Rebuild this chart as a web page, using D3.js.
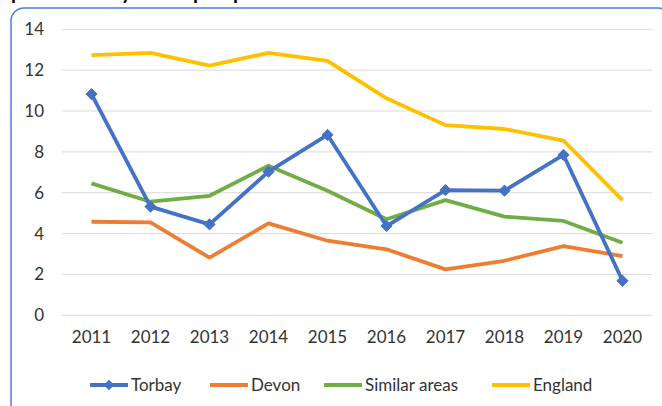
<!DOCTYPE html>
<html>
<head>
<meta charset="utf-8">
<script src="https://d3js.org/d3.v7.min.js"></script>
<style>
  body { margin: 0; background: #fff; }
  svg { display: block; font-family: Lato, "Open Sans", sans-serif; }
</style>
</head>
<body>
<svg id="chart" width="662" height="406"></svg>
<script>
// data
const years = ['2011', '2012', '2013', '2014', '2015', '2016', '2017', '2018', '2019', '2020'];
const torbay = [10.83, 5.32, 4.45, 7.03, 8.83, 4.37, 6.13, 6.1, 7.85, 1.69];
const devon = [4.58, 4.55, 2.82, 4.5, 3.65, 3.23, 2.25, 2.67, 3.39, 2.9];
const similarAreas = [6.46, 5.56, 5.85, 7.32, 6.1, 4.7, 5.64, 4.83, 4.62, 3.55];
const england = [12.74, 12.85, 12.22, 12.85, 12.45, 10.62, 9.31, 9.12, 8.55, 5.64];
const yTicks = [0, 2, 4, 6, 8, 10, 12, 14];
const seriesNames = ['Torbay', 'Devon', 'Similar areas', 'England'];
const seriesColors = ['#4472c4', '#ed7d31', '#70ad47', '#ffc000'];

const svg = d3.select('#chart');
const textColor = '#333';

// cropped heading above the chart box (only descenders visible)
const headingBits = [{ t: 'p', x: 11 }, { t: 'y', x: 121 }, { t: 'p', x: 193 }, { t: 'p', x: 233 }];
svg.append('g')
  .selectAll('text')
  .data(headingBits)
  .enter().append('text')
  .attr('x', d => d.x)
  .attr('y', -1)
  .attr('font-size', 20)
  .attr('font-weight', 'bold')
  .attr('fill', '#000')
  .text(d => d.t);

// chart frame
svg.append('rect')
  .attr('x', 11).attr('y', 8)
  .attr('width', 660).attr('height', 410)
  .attr('rx', 13)
  .attr('fill', 'none')
  .attr('stroke', '#4f7fd0')
  .attr('stroke-width', 1.5);

const x = d3.scaleBand().domain(years).range([62, 652]);
const y = d3.scaleLinear().domain([0, 14]).range([315.3, 29.3]);

// gridlines
svg.append('g')
  .selectAll('line')
  .data(yTicks)
  .enter().append('line')
  .attr('x1', 62).attr('x2', 652)
  .attr('y1', d => y(d)).attr('y2', d => y(d))
  .attr('stroke', '#d9d9d9')
  .attr('stroke-width', 1);

// y axis labels
const yAxis = svg.append('g')
  .attr('transform', 'translate(44,0)')
  .call(d3.axisLeft(y).tickValues(yTicks).tickSize(0).tickPadding(0));
yAxis.select('.domain').remove();
yAxis.selectAll('text')
  .attr('font-family', 'Lato, "Open Sans", sans-serif')
  .attr('font-size', 17)
  .attr('fill', textColor);

// x axis labels
const xAxis = svg.append('g')
  .attr('transform', 'translate(0,331)')
  .call(d3.axisBottom(x).tickSize(0).tickPadding(0));
xAxis.select('.domain').remove();
xAxis.selectAll('text')
  .attr('font-family', 'Lato, "Open Sans", sans-serif')
  .attr('font-size', 17)
  .attr('fill', textColor);

const cx = d => x(d) + x.bandwidth() / 2;
const allSeries = [torbay, devon, similarAreas, england];
const line = d3.line().x((d, i) => cx(years[i])).y(d => y(d));

// draw England first so Torbay sits on top, like the original
[3, 2, 1, 0].forEach(k => {
  svg.append('path')
    .datum(allSeries[k])
    .attr('d', line)
    .attr('fill', 'none')
    .attr('stroke', seriesColors[k])
    .attr('stroke-width', 3.8)
    .attr('stroke-linejoin', 'round');
});

// Torbay diamond markers
svg.append('g')
  .selectAll('path')
  .data(torbay)
  .enter().append('path')
  .attr('d', d3.symbol(d3.symbolDiamond2, 80))
  .attr('transform', (d, i) => `translate(${cx(years[i])},${y(d)})`)
  .attr('fill', seriesColors[0])
  .attr('stroke', seriesColors[0])
  .attr('stroke-width', 1);

// legend
const legendX = [90, 210, 324, 492];
const legend = svg.append('g')
  .selectAll('g')
  .data(seriesNames)
  .enter().append('g')
  .attr('transform', (d, i) => `translate(${legendX[i]},385)`);
legend.append('line')
  .attr('x1', 0).attr('x2', 38)
  .attr('stroke', (d, i) => seriesColors[i])
  .attr('stroke-width', 3.8);
legend.filter((d, i) => i === 0).append('path')
  .attr('d', d3.symbol(d3.symbolDiamond2, 70))
  .attr('transform', 'translate(19,0)')
  .attr('fill', seriesColors[0]);
legend.append('text')
  .attr('x', 41)
  .attr('y', 6)
  .attr('font-size', 17)
  .attr('fill', textColor)
  .text(d => d);
</script>
</body>
</html>
